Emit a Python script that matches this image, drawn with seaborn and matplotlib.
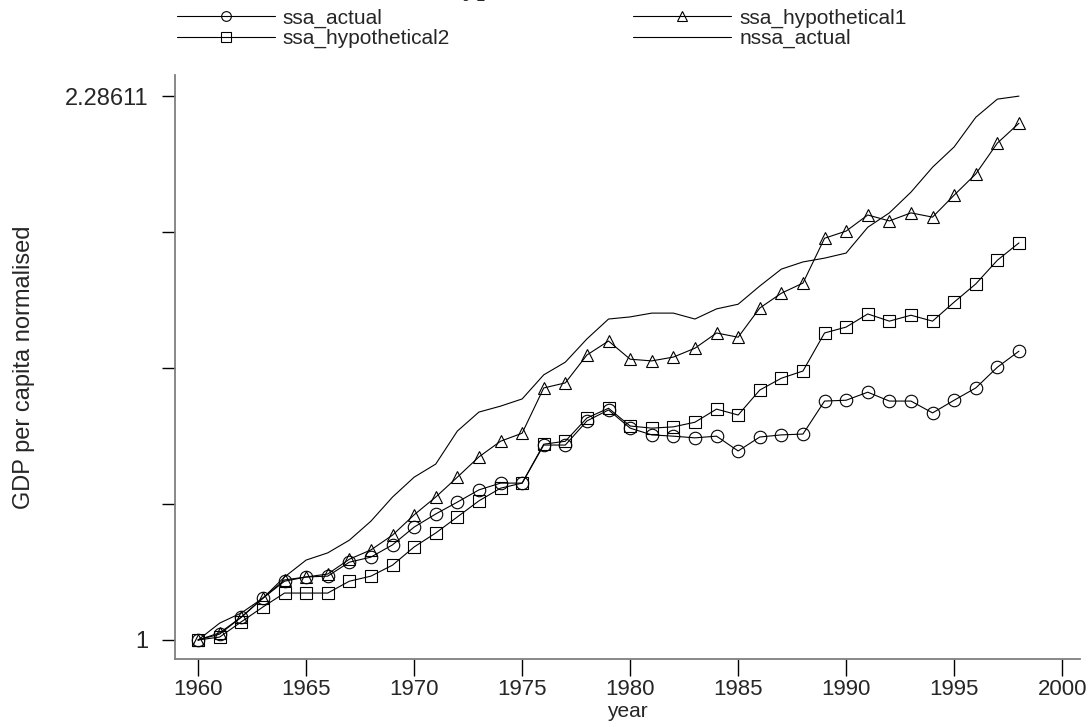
import numpy as np
import pandas as pd
import matplotlib
matplotlib.use("Agg")
import matplotlib.pyplot as plt
import seaborn as sns
from matplotlib.lines import Line2D

# values
years = list(range(1960, 1999))

ssa_actual = [1.000, 1.014, 1.054, 1.099, 1.139, 1.149, 1.151, 1.184, 1.196, 1.225,
              1.267, 1.298, 1.326, 1.355, 1.371, 1.371, 1.461, 1.461, 1.518, 1.544,
              1.501, 1.485, 1.482, 1.478, 1.482, 1.447, 1.480, 1.485, 1.487, 1.565,
              1.567, 1.586, 1.565, 1.565, 1.537, 1.567, 1.596, 1.645, 1.683]

ssa_hypothetical1 = [1.000, 1.017, 1.054, 1.099, 1.142, 1.149, 1.156, 1.191, 1.213, 1.248,
                     1.296, 1.338, 1.385, 1.433, 1.470, 1.489, 1.596, 1.608, 1.674, 1.707,
                     1.664, 1.660, 1.669, 1.690, 1.726, 1.716, 1.785, 1.820, 1.844, 1.950,
                     1.967, 2.005, 1.991, 2.010, 2.000, 2.052, 2.102, 2.175, 2.222]

ssa_hypothetical2 = [1.000, 1.007, 1.043, 1.078, 1.111, 1.111, 1.111, 1.139, 1.151, 1.177,
                     1.220, 1.253, 1.291, 1.329, 1.359, 1.371, 1.463, 1.470, 1.525, 1.548,
                     1.506, 1.501, 1.504, 1.515, 1.546, 1.532, 1.591, 1.619, 1.636, 1.726,
                     1.740, 1.771, 1.754, 1.768, 1.754, 1.799, 1.842, 1.898, 1.939]

nssa_actual = [1.000, 1.040, 1.064, 1.099, 1.149, 1.189, 1.206, 1.236, 1.281, 1.338,
               1.385, 1.416, 1.494, 1.539, 1.553, 1.570, 1.627, 1.657, 1.712, 1.759,
               1.764, 1.773, 1.773, 1.759, 1.783, 1.794, 1.837, 1.877, 1.894, 1.903,
               1.915, 1.976, 2.010, 2.059, 2.118, 2.166, 2.236, 2.279, 2.28611]

y_ticks = [1, 1.32153, 1.64306, 1.96458, 2.28611]
y_ticklabels = ['1', '', '', '', '2.28611']
x_ticks = [1960, 1965, 1970, 1975, 1980, 1985, 1990, 1995, 2000]

df = pd.DataFrame({'year': years,
                   'ssa_actual': ssa_actual,
                   'ssa_hypothetical1': ssa_hypothetical1,
                   'ssa_hypothetical2': ssa_hypothetical2,
                   'nssa_actual': nssa_actual})
long_df = df.melt(id_vars='year', var_name='series', value_name='value')

sns.set_theme(style="white")
plt.rcParams['font.family'] = ['Liberation Sans', 'DejaVu Sans']

fig = plt.figure(figsize=(10.91, 7.27), dpi=100)
ax = fig.add_axes([0.1604, 0.0935, 0.8296, 0.8033])

markers = {'ssa_actual': 'o', 'ssa_hypothetical1': '^',
           'ssa_hypothetical2': 's', 'nssa_actual': None}

for name, mk in markers.items():
    sub = long_df[long_df['series'] == name]
    kw = dict(color='black', linewidth=0.8)
    if mk:
        kw.update(marker=mk, markersize=9, markerfacecolor='none',
                  markeredgecolor='black', markeredgewidth=0.8)
    sns.lineplot(data=sub, x='year', y='value', ax=ax, estimator=None,
                 legend=False, **kw)

ax.set_xlim(1958.93, 2000.83)
ax.set_ylim(0.955, 2.336)
ax.set_xticks(x_ticks)
ax.set_yticks(y_ticks)
ax.set_yticklabels(y_ticklabels)
ax.set_xlabel('year', fontsize=15, labelpad=1)
ax.set_ylabel('GDP per capita normalised', fontsize=17)
ax.yaxis.set_label_coords(-0.155, 0.5)

for s in ['top', 'right']:
    ax.spines[s].set_visible(False)
for s in ['left', 'bottom']:
    ax.spines[s].set_color('#7f7f7f')
    ax.spines[s].set_linewidth(1.3)
ax.tick_params(axis='both', direction='out', width=1,
               color='black', left=True, bottom=True)
ax.tick_params(axis='y', length=9.4, labelsize=17, pad=10)
ax.tick_params(axis='x', length=12.5, labelsize=16, pad=2)

# legend, Stata-style two columns above the plot
handles = [
    Line2D([], [], color='black', lw=0.8, marker='o', markersize=7,
           markerfacecolor='none', markeredgewidth=0.8),
    Line2D([], [], color='black', lw=0.8, marker='s', markersize=7,
           markerfacecolor='none', markeredgewidth=0.8),
    Line2D([], [], color='black', lw=0.8, marker='^', markersize=7,
           markerfacecolor='none', markeredgewidth=0.8),
    Line2D([], [], color='black', lw=0.8),
]
labels = ['ssa_actual', 'ssa_hypothetical2', 'ssa_hypothetical1', 'nssa_actual']
fig.legend(handles, labels, ncol=2, loc='upper left',
           bbox_to_anchor=(162 / 1091, 1.008), frameon=False, fontsize=15,
           handlelength=4.7, handletextpad=0.4, columnspacing=8.8,
           labelspacing=0.05, borderpad=0.2)

# title, almost entirely cut off at the top edge as in the reference
fig.text(260 / 1091, 1 + 5 / 727, 'SSA actual and hypothetical GDP',
         family='Liberation Serif', fontweight='bold', fontsize=20,
         ha='left', va='baseline')

fig.savefig('out.png', dpi=100)
